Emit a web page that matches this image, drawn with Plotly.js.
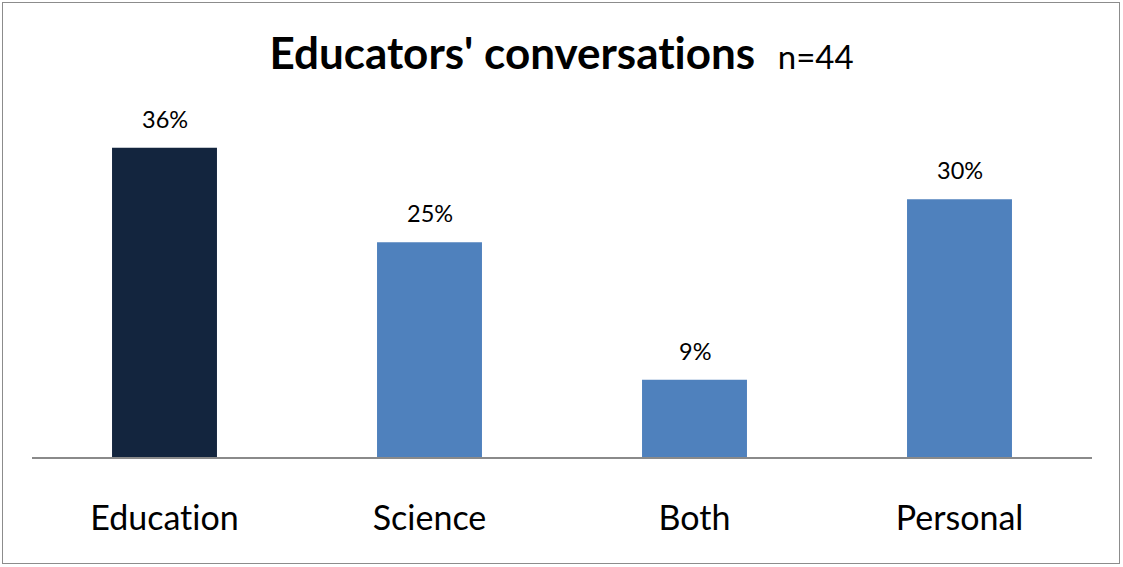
<!DOCTYPE html>
<html>
<head>
<meta charset="utf-8">
<script src="https://cdn.plot.ly/plotly-3.0.1.min.js"></script>
<style>
  html, body { margin: 0; padding: 0; background: #ffffff; }
  #wrap { position: relative; width: 1123px; height: 567px; }
  #chart { width: 1123px; height: 567px; }
  #chart text { font-variant-ligatures: none; font-feature-settings: "liga" 0, "clig" 0; }
  #frame {
    position: absolute; left: 2px; top: 2px; width: 1118px; height: 562px;
    border: 1.5px solid #8c8c8c; pointer-events: none; box-sizing: border-box;
  }
</style>
</head>
<body>
<div id="wrap">
  <div id="chart"></div>
  <div id="frame"></div>
</div>
<script>
// Share of educators' conversations by topic (n = 44)
const categories = ["Education", "Science", "Both", "Personal"];
const shares = [36, 25, 9, 30];
const barColors = ["#13253e", "#4f81bd", "#4f81bd", "#4f81bd"];
const titleMain = "Educators' conversations";
const titleNote = "n=44";

const FONT = "Lato, 'Open Sans', sans-serif";

const trace = {
  type: "bar",
  x: categories,
  y: shares,
  marker: { color: barColors, line: { width: 0 } },
  hoverinfo: "x+y"
};

// value labels floating above each bar
const labels = categories.map((c, i) => ({
  x: c,
  y: shares[i],
  xref: "x",
  yref: "y",
  text: shares[i] + "%",
  showarrow: false,
  yanchor: "bottom",
  yshift: 13,
  font: { family: FONT, size: 23.5, color: "#000000" }
}));

const layout = {
  width: 1123,
  height: 567,
  margin: { l: 32, r: 31, t: 60, b: 110, pad: 0 },
  paper_bgcolor: "#ffffff",
  plot_bgcolor: "#ffffff",
  showlegend: false,
  bargap: 0.604,
  title: {
    text: "<b>" + titleMain + "</b>  <span style='font-size:33px'>" + titleNote + "</span>",
    font: { family: FONT, size: 44, color: "#000000" },
    x: 0.5,
    xanchor: "center",
    y: 0.905,
    yanchor: "middle"
  },
  xaxis: {
    type: "category",
    showline: true,
    linecolor: "#8a8a8a",
    linewidth: 1.5,
    showgrid: false,
    zeroline: false,
    ticks: "outside",
    ticklen: 31,
    tickcolor: "rgba(0,0,0,0)",
    tickfont: { family: FONT, size: 34, color: "#000000" },
    fixedrange: true
  },
  yaxis: {
    range: [0, 46.2],
    showline: false,
    showgrid: false,
    zeroline: false,
    showticklabels: false,
    ticks: "",
    fixedrange: true
  },
  annotations: labels
};

Plotly.newPlot("chart", [trace], layout, { staticPlot: true, displayModeBar: false });
</script>
</body>
</html>
